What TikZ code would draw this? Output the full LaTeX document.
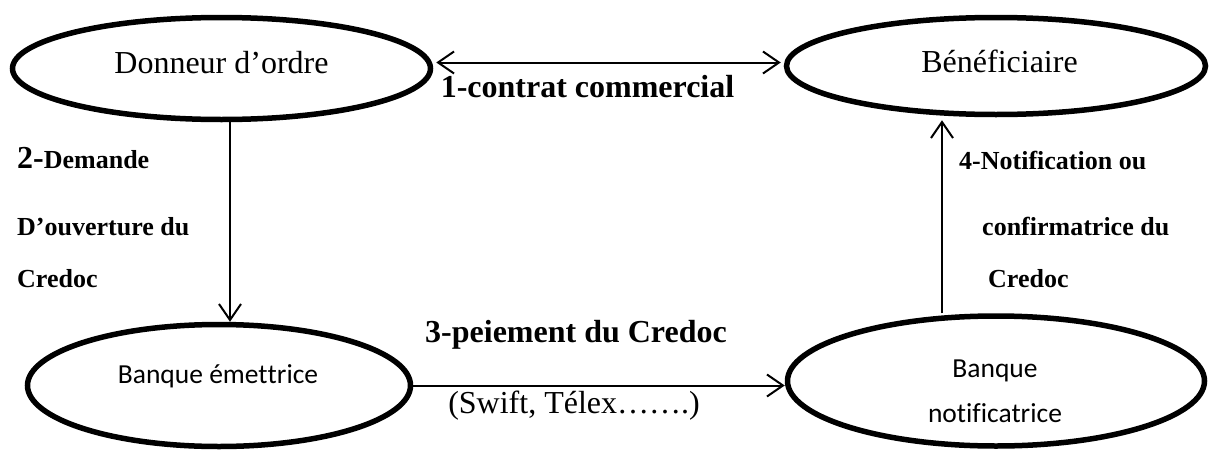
\documentclass[tikz,border=0pt]{standalone}
\usepackage{fontspec}
\setmainfont{Liberation Serif}
\newfontfamily\calib[Ligatures=NoCommon]{Carlito}
\usetikzlibrary{shapes.geometric,arrows.meta}
% break the tt and fi ligatures of Carlito
\newcommand{\nolig}{\kern0pt{}}
\begin{document}
\begin{tikzpicture}[x=1pt,y=-1pt,
  >={Straight Barb[length=16pt,width=22pt]},
  party/.style={ellipse, draw, line width=5.5pt, inner sep=0pt},
  flow/.style={line width=2pt, ->},
  txt/.style={inner sep=0pt, anchor=base},
  partytxt/.style={txt, font=\fontsize{32}{38}\selectfont},
  banktxt/.style={txt, font=\calib\fontsize{27.5}{33}\selectfont},
  bigbold/.style={txt, font=\bfseries\fontsize{32}{38}\selectfont},
  plain/.style={txt, font=\fontsize{32}{38}\selectfont},
  steplbl/.style={txt, anchor=base west, font=\bfseries\fontsize{26}{30}\selectfont},
]
\useasboundingbox (0,0) rectangle (1210,450);

% the four parties
\node[party, minimum width=418pt, minimum height=102pt] (don) at (221.5,68.5) {};
\node[party, minimum width=419pt, minimum height=97pt]  (ben) at (996,66) {};
\node[party, minimum width=383pt, minimum height=122pt] (emt) at (219,385.5) {};
\node[party, minimum width=417pt, minimum height=130pt] (ntf) at (996,381) {};

\node[partytxt] (don-t) at (221.5,73) {Donneur d’ordre};
\node[partytxt] (ben-t) at (999.5,72) {Bénéficiaire};
\node[banktxt] (emt-t) at (218,383) {Banque émet\nolig trice};
\node[banktxt] (ntf-t1) at (995,377) {Banque};
\node[banktxt] (ntf-t2) at (995,422) {notif\nolig icatrice};

% flows between the parties
\draw[flow, <->, shorten <=3pt, shorten >=3pt]
  ([yshift=6pt]don.east) -- ([yshift=6pt]don.east -| ben.west);
\draw[flow] ([xshift=8.5pt]don.south) -- ([xshift=8.5pt]don.south |- emt.north);
\draw[flow] (emt.east) -- (emt.east -| ntf.west);
\draw[flow, shorten >=3pt] ([xshift=-54pt]ntf.north) -- ([xshift=-54pt]ntf.north |- ben.south);

% step labels
\node[bigbold] (s1) at (587.5,97) {1-contrat commercial};
\node[steplbl] (s2a) at (17,168) {{\fontsize{32}{38}\selectfont 2-}Demande};
\node[steplbl] (s2b) at (17,235) {D’ouverture du};
\node[steplbl] (s2c) at (17,287) {Credoc};
\node[bigbold] (s3) at (576,342) {3-peiement du Credoc};
\node[plain] (s3b) at (574,413) {(Swift, Télex…….)};
\node[steplbl] (s4a) at (959,169) {4-Notification ou};
\node[steplbl] (s4b) at (982,235) {confirmatrice du};
\node[steplbl] (s4c) at (988,287) {Credoc};
\end{tikzpicture}
\end{document}
